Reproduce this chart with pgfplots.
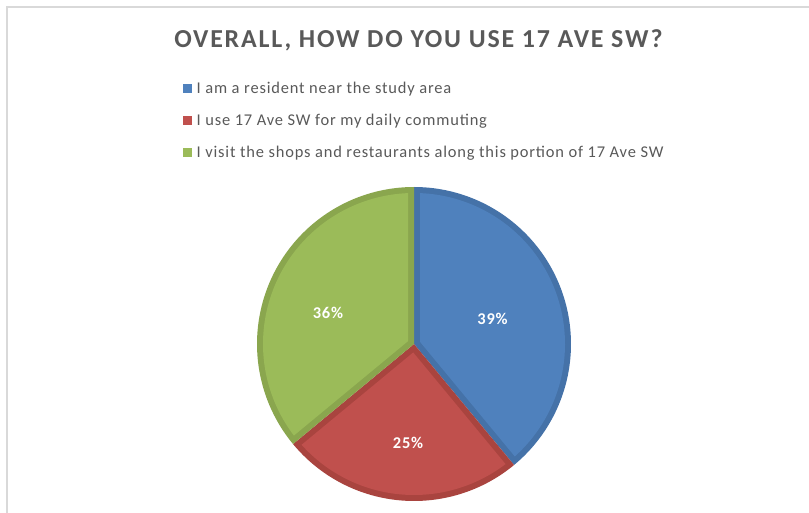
\documentclass[border=0pt]{standalone}
\usepackage{pgfplots}
\pgfplotsset{compat=1.18}
\usepackage{fontspec}
\setmainfont{Carlito}
\newfontfamily\titlefont[LetterSpace=7]{Carlito}
\newfontfamily\legfont[LetterSpace=5]{Carlito}

\definecolor{txt}{HTML}{595959}
\definecolor{frame}{HTML}{D9D9D9}
\definecolor{blueF}{HTML}{4F81BD}
\definecolor{blueD}{HTML}{4572A8}
\definecolor{redF}{HTML}{C0504D}
\definecolor{redD}{HTML}{A9443F}
\definecolor{greenF}{HTML}{9BBB59}
\definecolor{greenD}{HTML}{8AA64E}

% shares in percent
\def\pA{39}  % resident
\def\pB{25}  % commuting
\def\pC{36}  % shops and restaurants

% pie geometry (1 unit = 1 pixel of the 809x513 picture, y upwards)
\def\cx{414}
\def\cy{169}
\def\R{157}
\def\bw{6}   % width of the darker rim

% slice angles, clockwise from 12 o'clock
\pgfmathsetmacro\aA{90}
\pgfmathsetmacro\aB{\aA-3.6*\pA}
\pgfmathsetmacro\aC{\aB-3.6*\pB}
\pgfmathsetmacro\aD{\aC-3.6*\pC}
\pgfmathsetmacro\ri{\R-\bw}
\pgfmathsetmacro\dl{asin(\bw/\ri)}
% inner (lighter) wedge: start/end angle and apex
\pgfmathsetmacro\sA{\aB+\dl}\pgfmathsetmacro\eA{\aA-\dl}
\pgfmathsetmacro\sB{\aC+\dl}\pgfmathsetmacro\eB{\aB-\dl}
\pgfmathsetmacro\sC{\aD+\dl}\pgfmathsetmacro\eC{\aC-\dl}
\pgfmathsetmacro\pxA{\cx+\bw/sin((\aA-\aB)/2)*cos((\aA+\aB)/2)}
\pgfmathsetmacro\pyA{\cy+\bw/sin((\aA-\aB)/2)*sin((\aA+\aB)/2)}
\pgfmathsetmacro\pxB{\cx+\bw/sin((\aB-\aC)/2)*cos((\aB+\aC)/2)}
\pgfmathsetmacro\pyB{\cy+\bw/sin((\aB-\aC)/2)*sin((\aB+\aC)/2)}
\pgfmathsetmacro\pxC{\cx+\bw/sin((\aC-\aD)/2)*cos((\aC+\aD)/2)}
\pgfmathsetmacro\pyC{\cy+\bw/sin((\aC-\aD)/2)*sin((\aC+\aD)/2)}

\begin{document}
\begin{tikzpicture}
\begin{axis}[
    width=809bp, height=513bp,
    scale only axis,
    xmin=0, xmax=809, ymin=0, ymax=513,
    hide axis,
    legend style={
      at={(axis cs:183,433)}, anchor=north west,
      draw=none, fill=none, inner sep=0pt,
      font=\legfont\fontsize{16.5}{19}\selectfont, text=txt,
      row sep=16.5bp,
      nodes={inner sep=1.5bp},
      /tikz/every odd column/.append style={column sep=3bp},
    },
    legend cell align=left,
    legend image code/.code={
      \fill[#1] (0bp,-4.5bp) rectangle (9bp,4.5bp);
    },
]
\coordinate (ll) at (rel axis cs:0,0);
\coordinate (ur) at (rel axis cs:1,1);
% frame of the chart area (right and bottom edges lie outside the picture)
\draw[frame, line width=1.2bp] (axis cs:7,0) -- (axis cs:7,506) -- (axis cs:809,506);

% resident
\addplot[fill=blueD, draw=none, domain=\aB:\aA, samples=120, forget plot]
  ({\cx+\R*cos(x)},{\cy+\R*sin(x)}) -- (axis cs:\cx,\cy) -- cycle;
\addplot[fill=blueF, draw=none, domain=\sA:\eA, samples=120]
  ({\cx+\ri*cos(x)},{\cy+\ri*sin(x)}) -- (axis cs:\pxA,\pyA) -- cycle;
\addlegendentry{I am a resident near the study area}
% commuting
\addplot[fill=redD, draw=none, domain=\aC:\aB, samples=120, forget plot]
  ({\cx+\R*cos(x)},{\cy+\R*sin(x)}) -- (axis cs:\cx,\cy) -- cycle;
\addplot[fill=redF, draw=none, domain=\sB:\eB, samples=120]
  ({\cx+\ri*cos(x)},{\cy+\ri*sin(x)}) -- (axis cs:\pxB,\pyB) -- cycle;
\addlegendentry{I use 17 Ave SW for my daily commuting}
% shops and restaurants
\addplot[fill=greenD, draw=none, domain=\aD:\aC, samples=120, forget plot]
  ({\cx+\R*cos(x)},{\cy+\R*sin(x)}) -- (axis cs:\cx,\cy) -- cycle;
\addplot[fill=greenF, draw=none, domain=\sC:\eC, samples=120]
  ({\cx+\ri*cos(x)},{\cy+\ri*sin(x)}) -- (axis cs:\pxC,\pyC) -- cycle;
\addlegendentry{I visit the shops and restaurants along this portion of 17 Ave SW}

% percentage labels
\begin{scope}[every node/.style={text=white, font=\legfont\fontsize{16.5}{19}\selectfont\bfseries}]
\node at (axis cs:492.5,194.5) {\pA\%};
\node at (axis cs:408,70) {\pB\%};
\node at (axis cs:328,200.5) {\pC\%};
\end{scope}

% title
\node[text=txt, font=\titlefont\fontsize{26}{30}\selectfont\bfseries, anchor=base]
  at (axis cs:418.5,465) {OVERALL, HOW DO YOU USE 17 AVE SW?};
\end{axis}
\pgfresetboundingbox
\path[use as bounding box] (ll) rectangle (ur);
\end{tikzpicture}
\end{document}
